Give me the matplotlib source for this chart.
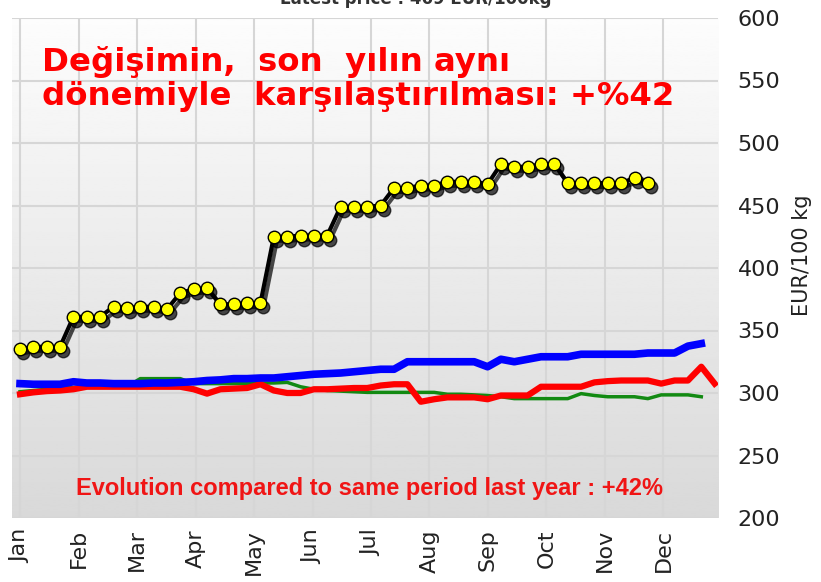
import numpy as np
import matplotlib.pyplot as plt
from matplotlib.transforms import offset_copy

# weekly prices, EUR/100kg
black_prices = [335, 337, 337, 337, 361, 361, 361, 369, 368, 369, 369, 367,
                380, 383, 384, 371, 371, 372, 372, 425, 425, 426, 426, 426,
                449, 449, 449, 450, 464, 464, 466, 466, 469, 469, 469, 467,
                483, 481, 481, 483, 483, 468, 468, 468, 468, 468, 472, 468]
blue_prices = [307.5, 307, 307, 307, 309, 308, 308, 307.5, 307.5, 307.5, 308, 308,
               308.5, 309, 310, 310.5, 311.5, 311.5, 312, 312, 313, 314, 315, 315.5,
               316, 317, 318, 319, 319, 325, 325, 325, 325, 325, 325, 321,
               327, 325, 327, 329, 329, 329, 331, 331, 331, 331, 331, 332,
               332, 332, 337.5, 339.5]
red_prices = [299, 300.5, 301.5, 302, 303, 305, 305, 305, 305, 305, 305, 305,
              305, 303, 299.5, 303, 303.5, 304, 307, 302, 300, 300, 303, 303,
              303.5, 304, 304, 306, 307, 307, 293, 295, 296.5, 296.5, 296.5, 295,
              298, 298, 298, 305, 305, 305, 305, 308.5, 309.5, 310, 310, 310,
              307.5, 310, 310, 321, 307.5]
green_prices = [301, 302, 303, 304, 304.5, 305, 305, 305, 305, 311.5, 311.5, 311.5,
                311.5, 307.5, 307.5, 307.5, 307.5, 307.5, 308, 308, 308.5, 305, 303, 302,
                301.5, 301, 300.5, 300.5, 300.5, 300.5, 300.5, 300.5, 299, 299, 298.5, 298,
                297, 295.5, 295.5, 295.5, 295.5, 295.5, 299.5, 298, 297, 297, 297, 295.5,
                298.5, 298.5, 298.5, 297]
months = ['Jan', 'Feb', 'Mar', 'Apr', 'May', 'Jun',
          'Jul', 'Aug', 'Sep', 'Oct', 'Nov', 'Dec']
y_ticks = [200, 250, 300, 350, 400, 450, 500, 550, 600]

fig = plt.figure(figsize=(8.21, 5.82), dpi=100)
ax = fig.add_axes([12 / 821, 1 - 518 / 582, 706 / 821, 500 / 582])

# light gradient background
grad = np.linspace(0.85, 0.99, 256).reshape(-1, 1)
ax.imshow(grad, cmap='gray', vmin=0, vmax=1, aspect='auto', origin='lower',
          extent=[0, 1, 0, 1], transform=ax.transAxes, zorder=0)

month_pos = np.arange(12) * 4.379
ax.set_xticks(month_pos)
ax.set_xticklabels(months, rotation=90, fontsize=16, color='#222222')
ax.set_yticks(y_ticks)
ax.set_yticklabels([str(v) for v in y_ticks], fontsize=16, color='#222222')
ax.yaxis.tick_right()
ax.set_ylabel('EUR/100 kg', fontsize=15, color='#222222')
ax.yaxis.set_label_position('right')
ax.yaxis.set_label_coords(1.105, 0.526)
ax.tick_params(axis='both', length=0)
ax.tick_params(axis='y', pad=14)
ax.tick_params(axis='x', pad=8)
ax.grid(True, color='#d6d6d6', linewidth=1.5, zorder=1)
ax.set_axisbelow(True)
for s in ax.spines.values():
    s.set_visible(False)

ax.set_xlim(-0.6, 52.25)
ax.set_ylim(200, 600)

ax.plot(np.arange(len(green_prices)), green_prices, color='#128a12', lw=2.5, zorder=3)
ax.plot(np.arange(len(red_prices)), red_prices, color='#ff0000', lw=4.5, zorder=4)
ax.plot(np.arange(len(blue_prices)), blue_prices, color='#0000ff', lw=5.5, zorder=5)

wk = np.arange(len(black_prices))
shadow = offset_copy(ax.transData, fig=fig, x=3, y=-4, units='dots')
ax.plot(wk, black_prices, color='black', lw=3, marker='o', markersize=9,
        markerfacecolor='black', markeredgecolor='black', alpha=0.7,
        transform=shadow, zorder=6)
ax.plot(wk, black_prices, color='black', lw=3, marker='o', markersize=9,
        markerfacecolor='#ffff00', markeredgecolor='black', markeredgewidth=1,
        zorder=7)

note_lines = ['Değişimin,  son  yılın aynı', 'dönemiyle  karşılaştırılması: +%42']
for line, base_y in zip(note_lines, [71, 105]):
    ax.text((42 - 12) / 706, 1 - (base_y - 18) / 500, line,
            transform=ax.transAxes, fontsize=23.3, fontweight='bold',
            color='#ff0000', ha='left', va='baseline', zorder=10)
ax.text((370 - 12) / 706, 1 - (489 - 18) / 500,
        'Evolution compared to same period last year : +42%',
        transform=ax.transAxes, fontsize=17, fontweight='bold', color='#f01515',
        family='Liberation Sans', ha='center', va='center', zorder=10)

fig.text(0.506, 1.002, 'Latest price : 469 EUR/100kg', ha='center', va='center',
         fontsize=12, fontweight='bold', color='#333333')

fig.savefig('out.png', dpi=100)
